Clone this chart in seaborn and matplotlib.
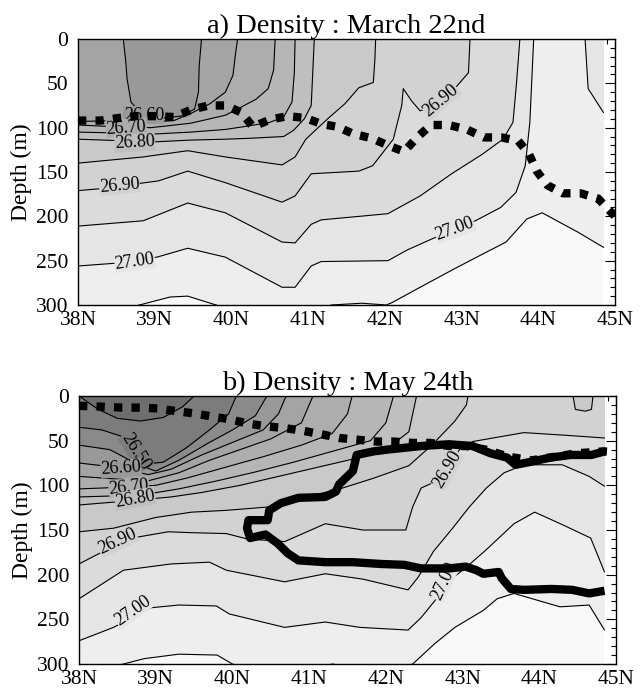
import matplotlib
matplotlib.use("Agg")
import matplotlib.pyplot as plt
from matplotlib.ticker import MultipleLocator, FixedLocator, FixedFormatter
import seaborn as sns

sns.set_theme(style="white")
plt.rcParams["font.family"] = ["Liberation Serif", "DejaVu Serif"]
plt.rcParams["text.color"] = "black"

# ---------------------------------------------------------------------------
# Potential density levels (sigma-theta) and section extent
# ---------------------------------------------------------------------------
levels = [26.45, 26.50, 26.55, 26.60, 26.65, 26.70, 26.75, 26.80,
          26.85, 26.90, 26.95, 27.00, 27.05]
lat_ticks = [38, 39, 40, 41, 42, 43, 44, 45]
lat_tick_labels = ["38N", "39N", "40N", "41N", "42N", "43N", "44N", "45N"]
depth_ticks = [0, 50, 100, 150, 200, 250, 300]
section_end = 44.85   # last station

# ---------------------------------------------------------------------------
# a) March 22nd : depth (m) of each isopycnal along the section
# ---------------------------------------------------------------------------
a_2660_lat = [38.0, 38.59, 38.62, 38.64, 38.69, 38.83, 39.03, 39.34, 39.52, 39.57, 39.58, 39.61, 44.85]
a_2660_dep = [0, 0, 23, 45, 71, 85, 90, 87, 79, 60, 30, 0, 0]
a_2665_lat = [38.0, 38.54, 38.89, 39.25, 39.47, 39.72, 39.92, 40.02, 40.05, 40.08, 44.85]
a_2665_dep = [93, 92, 94, 92, 84, 73, 60, 41, 19, 0, 0]
a_2670_lat = [38.0, 38.5, 38.95, 39.47, 39.92, 40.1, 40.32, 40.48, 40.55, 40.57, 44.85]
a_2670_dep = [97, 99, 100, 95, 86, 78, 68, 56, 35, 0, 0]
a_2675_lat = [38.0, 39.03, 39.47, 39.92, 40.23, 40.5, 40.68, 40.79, 40.82, 40.83, 44.85]
a_2675_dep = [105, 107, 105, 102, 98, 94, 88, 71, 38, 0, 0]
a_2680_lat = [38.0, 39.0, 39.47, 39.92, 40.23, 40.68, 40.81, 40.95, 41.04, 41.06, 41.08, 44.85]
a_2680_dep = [113, 116, 114, 113, 112, 110, 103, 90, 75, 38, 0, 0]
a_2685_lat = [38.0, 38.85, 39.43, 39.92, 40.66, 40.83, 40.97, 41.13, 41.28, 41.48, 41.66, 41.85, 41.87, 41.88, 44.85]
a_2685_dep = [140, 133, 126, 133, 142, 133, 113, 100, 88, 73, 55, 49, 23, 0, 0]
a_2690_lat = [38.0, 38.27, 39.05, 39.43, 39.92, 40.66, 40.83, 41.04, 41.66, 41.84, 42.11, 42.22, 42.24, 42.35,
              42.46, 42.6, 42.91, 43.09, 43.11, 44.85]
a_2690_dep = [171, 169, 160, 149, 162, 184, 177, 152, 149, 143, 113, 75, 56, 70, 81, 77, 56, 38, 0, 0]
a_2695_lat = [38.0, 38.85, 39.43, 39.92, 40.66, 40.83, 41.04, 41.17, 42.04, 42.46, 42.87, 43.27, 43.54, 43.67,
              43.71, 43.74, 43.76, 44.85]
a_2695_dep = [211, 205, 185, 196, 229, 230, 209, 204, 197, 177, 152, 130, 113, 94, 56, 23, 0, 0]
a_2700_lat = [38.0, 38.47, 39.03, 39.43, 39.92, 40.66, 40.83, 41.04, 41.17, 42.04, 42.29, 42.6, 43.18, 43.51,
              43.71, 43.83, 43.89, 43.94, 44.61, 44.65, 44.85]
a_2700_dep = [256, 253, 246, 236, 246, 280, 280, 256, 251, 250, 238, 226, 205, 190, 173, 143, 94, 0, 0, 56, 83]
a_2705_lat = [38.0, 38.8, 39.2, 39.43, 39.8, 40.66, 41.3, 41.7, 42.02, 42.1, 42.46, 42.91, 43.31, 43.58, 43.85,
              44.05, 44.52, 44.85]
a_2705_dep = [318, 300, 291, 290, 300, 322, 300, 298, 300, 297, 280, 259, 241, 229, 203, 196, 218, 235]

# mixed-layer depth, March 22nd
a_mld_lat = [38.0, 38.29, 38.54, 38.76, 39.0, 39.25, 39.47, 39.7, 39.93, 40.13, 40.28, 40.5, 40.73, 40.96,
             41.18, 41.38, 41.59, 41.83, 42.04, 42.25, 42.42, 42.6, 42.83, 43.07, 43.29, 43.52, 43.74, 43.88,
             43.98, 44.12, 44.32, 44.55, 44.78, 45.0]
a_mld_dep = [92, 92, 89, 87, 87, 88, 80, 75, 75, 83, 99, 91, 87, 89, 96, 99, 107, 112, 120, 127, 111, 97, 97,
             102, 111, 111, 115, 130, 149, 165, 174, 174, 180, 200]

# ---------------------------------------------------------------------------
# b) May 24th : depth (m) of each isopycnal along the section
# ---------------------------------------------------------------------------
b_2645_lat = [38.0, 38.25, 38.5, 38.8, 39.1, 39.35, 39.5, 44.85]
b_2645_dep = [0, 15, 25, 28, 24, 12, 0, 0]
b_2650_lat = [38.0, 38.3, 38.55, 38.75, 38.9, 39.1, 39.4, 39.7, 39.95, 40.05, 44.85]
b_2650_dep = [35, 38, 45, 62, 76, 74, 58, 38, 20, 0, 0]
b_2655_lat = [38.0, 38.4, 38.8, 39.0, 39.3, 39.7, 40.0, 40.3, 40.45, 44.85]
b_2655_dep = [55, 60, 78, 84, 72, 52, 38, 22, 0, 0]
b_2660_lat = [38.0, 38.5, 38.9, 39.2, 39.6, 40.0, 40.4, 40.6, 40.7, 44.85]
b_2660_dep = [75, 80, 88, 82, 66, 52, 38, 20, 0, 0]
b_2665_lat = [38.0, 38.5, 38.9, 39.3, 39.7, 40.1, 40.5, 40.9, 41.05, 44.85]
b_2665_dep = [90, 93, 95, 86, 72, 60, 48, 30, 0, 0]
b_2670_lat = [38.0, 38.6, 39.0, 39.4, 39.9, 40.4, 40.9, 41.3, 41.5, 41.56, 44.85]
b_2670_dep = [104, 102, 100, 92, 80, 68, 55, 42, 20, 0, 0]
b_2675_lat = [38.0, 38.8, 39.3, 39.8, 40.3, 40.8, 41.3, 41.8, 42.0, 42.1, 44.85]
b_2675_dep = [113, 111, 104, 95, 85, 74, 62, 50, 30, 0, 0]
b_2680_lat = [38.0, 38.7, 39.2, 39.6, 40.1, 40.6, 41.1, 41.6, 42.0, 42.3, 42.4, 44.85]
b_2680_dep = [122, 117, 113, 108, 100, 90, 80, 70, 60, 40, 0, 0]
b_2685_lat = [38.0, 38.45, 39.0, 39.47, 39.92, 40.5, 40.86, 41.4, 41.84, 42.3, 42.6, 42.9, 43.05, 43.07,
              44.44, 44.47, 44.6, 44.68, 44.7, 44.85]
b_2685_dep = [152, 148, 136, 130, 128, 124, 115, 104, 92, 78, 55, 28, 10, 0, 0, 15, 17, 15, 0, 0]
b_2690_lat = [38.0, 38.27, 38.76, 39.16, 39.47, 39.92, 40.19, 40.68, 41.21, 41.7, 42.26, 42.35, 42.46, 42.64,
              42.8, 42.96, 43.13, 43.8, 44.35, 44.85]
b_2690_dep = [188, 176, 158, 152, 153, 154, 160, 163, 143, 150, 150, 124, 103, 96, 82, 60, 51, 41, 44, 47]
b_2695_lat = [38.0, 38.58, 39.2, 39.7, 39.92, 40.68, 41.21, 41.7, 42.29, 42.42, 42.62, 42.87, 43.09, 43.31,
              43.54, 43.8, 44.3, 44.65, 44.85]
b_2695_dep = [227, 195, 188, 186, 195, 208, 199, 205, 217, 203, 174, 148, 124, 103, 86, 77, 77, 90, 101]
b_2700_lat = [38.0, 38.45, 38.94, 39.3, 39.79, 39.96, 40.68, 41.21, 41.66, 42.29, 42.46, 42.64, 42.87, 43.11,
              43.31, 43.67, 43.94, 44.3, 44.67, 44.85]
b_2700_dep = [274, 259, 237, 234, 235, 244, 259, 253, 259, 262, 248, 229, 204, 187, 172, 143, 130, 144, 159, 197]
b_2705_lat = [38.0, 38.58, 38.85, 39.3, 39.8, 40.0, 40.7, 41.3, 42.0, 42.35, 42.64, 42.9, 43.27, 43.45, 43.67,
              44.27, 44.65, 44.85]
b_2705_dep = [310, 300, 294, 289, 290, 300, 315, 300, 310, 300, 277, 259, 240, 227, 221, 236, 234, 262]

# mixed-layer depth, May 24th
b_mld_lat = [38.0, 38.31, 38.56, 38.8, 39.04, 39.27, 39.5, 39.74, 39.96, 40.21, 40.45, 40.69, 40.92, 41.17,
             41.39, 41.64, 41.88, 42.11, 42.35, 42.58, 42.82, 43.04, 43.3, 43.6, 43.9, 44.2, 44.5, 44.85, 45.0]
b_mld_dep = [11, 12, 13, 13, 14, 17, 19.5, 23, 26, 31, 34, 36, 39, 43, 47, 49, 51, 51, 52.5, 52.5, 56, 56,
             60, 68, 72, 68, 64, 62, 63]

# outline of the water mass, May 24th
b_core_lat = [44.85, 44.65, 44.43, 44.16, 43.80, 43.63, 43.51, 43.47, 43.27, 43.18, 43.04, 42.82, 42.46,
              42.24, 41.93, 41.57, 41.21, 40.86, 40.72, 40.59, 40.43, 40.23, 40.19, 40.21, 40.46, 40.48,
              40.63, 40.86, 41.21, 41.35, 41.39, 41.57, 41.62, 41.84, 42.02, 42.46, 42.82, 43.13, 43.36,
              43.58, 43.69, 43.87, 44.14, 44.41, 44.68, 44.85]
b_core_dep = [218, 221, 217, 216, 217, 216, 204, 197, 199, 195, 191, 193, 193, 189, 188, 186, 186, 184,
              176, 165, 155, 159, 148, 139, 139, 128, 120, 114, 113, 107, 99, 84, 66, 62, 60, 56, 54, 56,
              64, 69, 77, 74, 69, 66, 66, 62]

march = {26.60: (a_2660_lat, a_2660_dep), 26.65: (a_2665_lat, a_2665_dep),
         26.70: (a_2670_lat, a_2670_dep), 26.75: (a_2675_lat, a_2675_dep),
         26.80: (a_2680_lat, a_2680_dep), 26.85: (a_2685_lat, a_2685_dep),
         26.90: (a_2690_lat, a_2690_dep), 26.95: (a_2695_lat, a_2695_dep),
         27.00: (a_2700_lat, a_2700_dep), 27.05: (a_2705_lat, a_2705_dep)}
may = {26.45: (b_2645_lat, b_2645_dep), 26.50: (b_2650_lat, b_2650_dep),
       26.55: (b_2655_lat, b_2655_dep), 26.60: (b_2660_lat, b_2660_dep),
       26.65: (b_2665_lat, b_2665_dep), 26.70: (b_2670_lat, b_2670_dep),
       26.75: (b_2675_lat, b_2675_dep), 26.80: (b_2680_lat, b_2680_dep),
       26.85: (b_2685_lat, b_2685_dep), 26.90: (b_2690_lat, b_2690_dep),
       26.95: (b_2695_lat, b_2695_dep), 27.00: (b_2700_lat, b_2700_dep),
       27.05: (b_2705_lat, b_2705_dep)}

# grey shade of each density class: shades[i] lies just below levels[i],
# the last entry is the water denser than the deepest level
shades = ["#6e6e6e", "#7c7c7c", "#8a8a8a", "#999999", "#a4a4a4", "#adadad", "#b6b6b6",
          "#bfbfbf", "#c9c9c9", "#d2d2d2", "#dbdbdb", "#e5e5e5", "#eeeeee", "#f8f8f8"]


def shade_above(level):
    return shades[levels.index(level)]


def draw_section(ax, isopycnals, labels):
    # densest water first, lighter classes painted on top of it
    ax.fill_between([38.0, section_end], 0, 300, color=shades[-1], lw=0, zorder=1)
    for lev in sorted(isopycnals, reverse=True):
        lat, dep = isopycnals[lev]
        ax.fill_between(lat, 0, dep, color=shade_above(lev), lw=0, zorder=1)
    for lev in sorted(isopycnals):
        lat, dep = isopycnals[lev]
        sns.lineplot(x=lat, y=dep, ax=ax, color="black", lw=0.8, sort=False,
                     estimator=None, legend=False, zorder=2)
    for lev, x, y, rot in labels:
        ax.text(x, y, f"{lev:.2f}", rotation=rot, rotation_mode="anchor",
                ha="center", va="center", fontsize=13, color="black", zorder=3,
                bbox=dict(boxstyle="square,pad=0.02", fc=shade_above(lev), ec="none"))


def style_axes(ax, title):
    ax.set_xlim(38, 45)
    ax.set_ylim(300, 0)
    ax.xaxis.set_major_locator(FixedLocator(lat_ticks))
    ax.xaxis.set_major_formatter(FixedFormatter(lat_tick_labels))
    ax.xaxis.set_minor_locator(MultipleLocator(0.1))
    ax.yaxis.set_major_locator(FixedLocator(depth_ticks))
    ax.yaxis.set_minor_locator(MultipleLocator(10))
    ax.tick_params(which="both", direction="in", top=True, right=True,
                   color="black", width=0.8, labelsize=15.5, labelcolor="black")
    ax.tick_params(which="major", length=7)
    ax.tick_params(which="minor", length=3.5)
    ax.tick_params(axis="x", which="major", pad=4.5)
    ax.tick_params(axis="y", which="major", pad=7)
    ax.set_xlabel("")
    ax.set_ylabel("Depth (m)", fontsize=17, color="black", labelpad=3)
    ax.set_title(title, fontsize=20.5, color="black", pad=4)
    for sp in ax.spines.values():
        sp.set_color("black")
        sp.set_linewidth(1.0)
        sp.set_zorder(6)


fig = plt.figure(figsize=(6.44, 6.91), dpi=100)
ax_a = fig.add_axes([78 / 644, 1 - 305 / 691, 537 / 644, 266 / 691])
ax_b = fig.add_axes([79 / 644, 1 - 664 / 691, 537 / 644, 268 / 691])

labels_a = [(26.60, 38.86, 86, 0), (26.70, 38.63, 100, 4), (26.80, 38.74, 117, 3),
            (26.90, 38.54, 165, 5), (26.90, 42.73, 69, 40),
            (27.00, 38.74, 251, 8), (27.00, 42.91, 214, 20)]
labels_b = [(26.50, 38.74, 62, -58), (26.60, 38.55, 81, 4), (26.70, 38.65, 102, 6),
            (26.80, 38.73, 115, 10), (26.90, 38.5, 163, 25), (26.90, 42.8, 82, 60),
            (27.00, 38.7, 240, 35), (27.00, 42.76, 207, 65)]

draw_section(ax_a, march, labels_a)
sns.lineplot(x=a_mld_lat, y=a_mld_dep, ax=ax_a, color="black", lw=6, linestyle=(0, (1, 1.1)),
             sort=False, estimator=None, legend=False, zorder=4)
style_axes(ax_a, "a) Density : March 22nd")

draw_section(ax_b, may, labels_b)
sns.lineplot(x=b_mld_lat, y=b_mld_dep, ax=ax_b, color="black", lw=6, linestyle=(0, (1, 1.1)),
             sort=False, estimator=None, legend=False, zorder=4)
sns.lineplot(x=b_core_lat, y=b_core_dep, ax=ax_b, color="black", lw=6, sort=False,
             estimator=None, legend=False, zorder=5, solid_joinstyle="round", solid_capstyle="butt")
style_axes(ax_b, "b) Density : May 24th")

fig.savefig("out.png", dpi=100)
